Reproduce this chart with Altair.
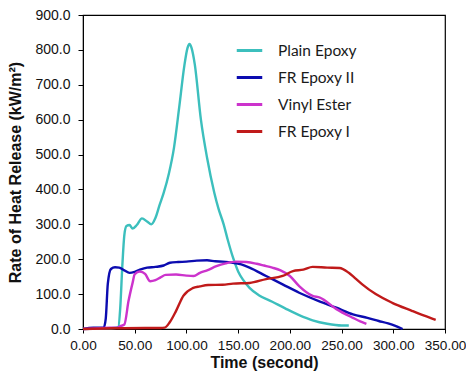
import altair as alt
import pandas as pd

series_names = ["Plain Epoxy", "FR Epoxy II", "Vinyl Ester", "FR Epoxy I"]
series_colors = ["#3cbfbd", "#0c0cb0", "#cc33cc", "#c01a1a"]

plain_t = [0, 20, 30, 34, 36, 38, 40, 42, 45, 48, 52, 57, 62, 66, 70, 74, 78, 83, 88, 93, 98, 101, 103, 105, 108, 114, 120, 127, 131, 136, 140, 145, 150, 155, 161, 170, 183, 195, 209, 222, 236, 250, 257]
plain_v = [0, 2, 3, 5, 60, 180, 270, 295, 298, 288, 298, 317, 308, 300, 318, 355, 390, 445, 520, 635, 755, 805, 817, 805, 760, 600, 490, 390, 345, 300, 255, 205, 165, 140, 118, 97, 78, 60, 40, 25, 15, 10, 10]

fr2_t = [0, 10, 20, 22, 24, 27, 31, 35, 40, 45, 50, 55, 62, 70, 78, 84, 92, 100, 110, 120, 128, 135, 145, 153, 161, 177, 193, 209, 228, 245, 261, 275, 286, 295, 302, 309]
fr2_v = [0, 4, 4, 30, 130, 172, 177, 176, 168, 161, 164, 170, 176, 178, 182, 190, 192, 193, 196, 197, 194, 193, 190, 185, 176, 152, 128, 104, 80, 61, 42, 32, 23, 16, 9, 0]

ve_t = [0, 20, 33, 36, 40, 44, 48, 50, 55, 60, 65, 70, 75, 80, 90, 100, 107, 113, 120, 129, 138, 148, 158, 168, 175, 183, 191, 200, 209, 222, 229, 245, 261, 268, 274]
ve_v = [0, 3, 4, 8, 13, 80, 133, 157, 165, 158, 137, 140, 148, 155, 156, 153, 152, 161, 168, 180, 188, 193, 192, 187, 182, 176, 168, 152, 123, 95, 90, 57, 32, 22, 15]

fr1_t = [0, 30, 60, 75, 79, 84, 90, 97, 106, 113, 121, 135, 145, 161, 177, 193, 203, 213, 222, 236, 248, 257, 263, 270, 283, 299, 318, 330, 341]
fr1_v = [0, 2, 3, 3, 4, 20, 52, 95, 117, 122, 126, 127, 130, 132, 143, 152, 166, 170, 178, 176, 175, 161, 146, 128, 100, 75, 52, 38, 26]

rows = []
for name, ts, vs in [("Plain Epoxy", plain_t, plain_v), ("FR Epoxy II", fr2_t, fr2_v),
                     ("Vinyl Ester", ve_t, ve_v), ("FR Epoxy I", fr1_t, fr1_v)]:
    for i, (t, v) in enumerate(zip(ts, vs)):
        rows.append({"series": name, "t": t, "v": v, "i": i})
df = pd.DataFrame(rows)

chart = alt.Chart(df).mark_line(strokeWidth=2.4, interpolate="monotone").encode(
    x=alt.X("t:Q", title="Time (second)",
            scale=alt.Scale(domain=[0, 350], nice=False),
            axis=alt.Axis(values=list(range(0, 351, 50)), format=".2f", grid=False,
                          labelOverlap=False, labelFlush=False,
                          labelFont="Liberation Sans", labelFontSize=13.6, labelColor="#111",
                          titleFont="Liberation Sans", titleFontSize=16, titleFontWeight="bold",
                          titleColor="#111", domainColor="#000", tickColor="#000",
                          tickSize=4, labelPadding=5, titlePadding=3)),
    y=alt.Y("v:Q", title="Rate of Heat Release (kW/m²)",
            scale=alt.Scale(domain=[0, 900], nice=False),
            axis=alt.Axis(values=list(range(0, 901, 100)), format=".1f", grid=False,
                          labelFont="Liberation Sans", labelFontSize=14, labelColor="#111",
                          titleFont="Liberation Sans", titleFontSize=16, titleFontWeight="bold",
                          titleColor="#111", domainColor="#000", tickColor="#000",
                          tickSize=5, labelPadding=8, titlePadding=11)),
    color=alt.Color("series:N", sort=series_names,
                    scale=alt.Scale(domain=series_names, range=series_colors),
                    legend=alt.Legend(title=None, orient="none", legendX=152, legendY=21,
                                      symbolType="stroke", symbolStrokeWidth=3, symbolSize=650,
                                      labelFont="Lato", labelFontSize=15.5, labelColor="#1a1a1a",
                                      rowPadding=4, labelOffset=14)),
    order="i:Q",
    detail="series:N",
).properties(
    width=362, height=314,
    autosize=alt.AutoSizeParams(type="none"),
    padding={"left": 75, "top": 7, "right": 21, "bottom": 46},
).configure_view(stroke="#000", strokeWidth=1.2)

chart.save("out.html", embed_options={"renderer": "svg", "actions": False})
